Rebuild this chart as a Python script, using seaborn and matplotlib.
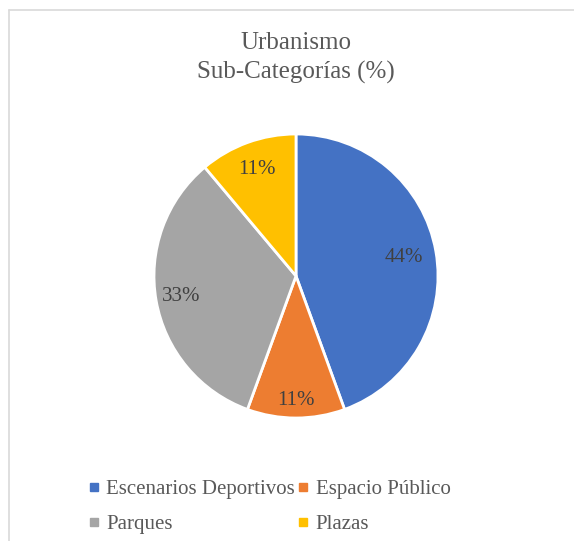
import matplotlib
matplotlib.use("Agg")
import matplotlib.pyplot as plt
from matplotlib.lines import Line2D
import numpy as np
import seaborn as sns

# Sub-category shares (%)
categories = ["Escenarios Deportivos", "Espacio Público", "Parques", "Plazas"]
shares = [44, 11, 33, 11]
title_lines = ["Urbanismo", "Sub-Categorías (%)"]

sns.set_theme(style="white")
plt.rcParams["font.family"] = ["Liberation Serif", "DejaVu Serif"]

colors = ["#4472C4", "#ED7D31", "#A5A5A5", "#FFC000"]
label_radius = [0.77, 0.88, 0.82, 0.80]

W, H, DPI = 574, 541, 100
fig = plt.figure(figsize=(W / DPI, H / DPI), dpi=DPI)
fig.patch.set_facecolor("white")

# pie axes: centre (296, 276) px, radius 142 px
cx, cy, r = 296, 276, 142
ax = fig.add_axes([(cx - r) / W, (H - cy - r) / H, 2 * r / W, 2 * r / H])
wedges, _ = ax.pie(
    shares, colors=colors, startangle=90, counterclock=False,
    wedgeprops=dict(edgecolor="white", linewidth=2),
)
ax.set_xlim(-1.0, 1.0)
ax.set_ylim(-1.0, 1.0)
ax.set_aspect("equal")
ax.axis("off")

for w, val, rad in zip(wedges, shares, label_radius):
    mid = np.deg2rad((w.theta1 + w.theta2) / 2)
    ax.text(rad * np.cos(mid), rad * np.sin(mid), f"{val}%",
            ha="center", va="center", fontsize=15, color="#404040")

# title
fig.text(296 / W, 1 - 43 / H, title_lines[0], ha="center", va="center",
         fontsize=18, color="#595959")
fig.text(296 / W, 1 - 72 / H, title_lines[1], ha="center", va="center",
         fontsize=18, color="#595959")

# legend, filled row by row
handles = [Line2D([], [], marker="s", linestyle="none", markersize=6,
                  markerfacecolor=c, markeredgecolor=c) for c in colors]
order = [0, 2, 1, 3]
leg = fig.legend([handles[i] for i in order], [categories[i] for i in order],
                 ncol=2, loc="upper left",
                 bbox_to_anchor=(79 / W, 1 - 471 / H), frameon=False,
                 fontsize=15, handlelength=0.6, handletextpad=0.3,
                 columnspacing=0.1, labelspacing=0.75, borderaxespad=0)
for t in leg.get_texts():
    t.set_color("#595959")

# chart-area border (top and left edges)
frame_color = "#d9d9d9"
fig.add_artist(Line2D([9 / W, 1], [1 - 9.5 / H, 1 - 9.5 / H],
                      transform=fig.transFigure, color=frame_color, lw=1.2))
fig.add_artist(Line2D([9 / W, 9 / W], [0, 1 - 9.5 / H],
                      transform=fig.transFigure, color=frame_color, lw=1.2))

fig.savefig("out.png", dpi=DPI, facecolor="white")
